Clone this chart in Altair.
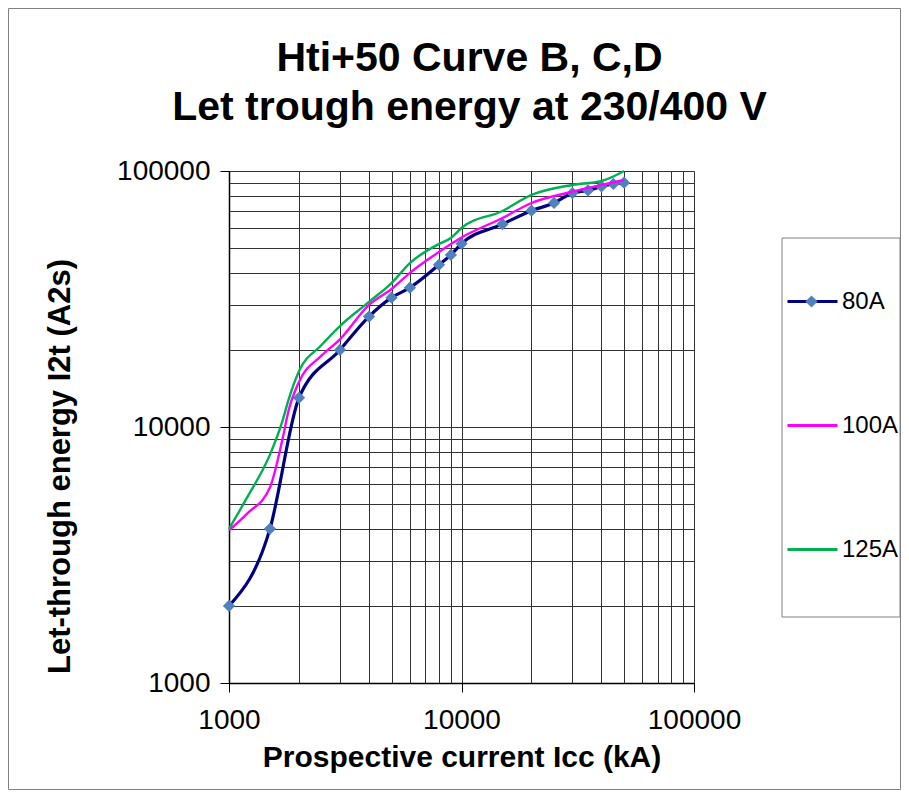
import altair as alt
import pandas as pd

# ---- data ----
series_names = ["80A", "100A", "125A"]
series_colors = ["#000080", "#FF00FF", "#00B050"]

x_80 = [1000, 1500, 2000, 3000, 4000, 5000, 6000, 8000, 9000, 10000,
        15000, 20000, 25000, 30000, 35000, 40000, 45000, 50000]
y_80 = [2000, 4000, 13000, 20000, 27000, 32000, 35000, 43000, 47000, 52000,
        62000, 70000, 75000, 82000, 84000, 87000, 89000, 90000]

x_100 = [1000, 1200, 1500, 1700, 1800, 2000, 2500, 3000, 4000, 5000, 6000,
         8000, 10000, 15000, 20000, 30000, 40000, 50000]
y_100 = [3950, 4600, 5800, 9000, 11500, 15000, 19000, 22000, 30000, 34600, 40000,
         48300, 55000, 65500, 75000, 83000, 88200, 92200]

x_125 = [1000, 1200, 1500, 1700, 1800, 2000, 2500, 3000, 4000, 5000, 6000,
         8000, 9000, 10000, 15000, 20000, 30000, 40000, 45000, 50000]
y_125 = [4000, 5330, 7800, 10600, 12700, 16500, 20900, 24800, 30800, 36500, 43700,
         51900, 54700, 59900, 69800, 80600, 88200, 91400, 95200, 100000]

grid_values = [m * 10 ** e for e in (3, 4) for m in range(1, 10)] + [100000]
major_values = [1000, 10000, 100000]

title_lines = ["Hti+50 Curve B, C,D", "Let trough energy at 230/400 V"]
x_title = "Prospective current Icc (kA)"
y_title = "Let-through energy I2t (A2s)"

FONT = "Liberation Sans"

df80 = pd.DataFrame({"x": x_80, "y": y_80, "series": "80A"})
df100 = pd.DataFrame({"x": x_100, "y": y_100, "series": "100A"})
df125 = pd.DataFrame({"x": x_125, "y": y_125, "series": "125A"})

major_test = "indexof([1000,10000,100000], datum.value) >= 0"

x_scale = alt.Scale(type="log", domain=[1000, 100000], nice=False)
y_scale = alt.Scale(type="log", domain=[1000, 100000], nice=False)

x_axis = alt.Axis(
    values=grid_values, labelExpr=f"{major_test} ? format(datum.value, 'd') : ''",
    title=x_title, titleFont=FONT, titleFontSize=30, titleFontWeight="bold",
    titleColor="black", titleY=83, titleBaseline="alphabetic",
    labelFont=FONT, labelFontSize=28, labelColor="black", labelPadding=14,
    labelFlush=False, labelOverlap=False,
    tickSize=9, tickColor="black",
    tickOpacity={"condition": {"test": major_test, "value": 1}, "value": 0},
    grid=True, gridColor="#333333", gridWidth=1,
    domainColor="black", domainWidth=1.5,
)
y_axis = alt.Axis(
    values=grid_values, labelExpr=f"{major_test} ? format(datum.value, 'd') : ''",
    title=y_title, titleFont=FONT, titleFontSize=31, titleFontWeight="bold",
    titleColor="black", titleX=-160, titleY=295, titleBaseline="alphabetic",
    titleAlign="center", titleAngle=270,
    labelFont=FONT, labelFontSize=28, labelColor="black", labelPadding=10,
    labelFlush=False, labelOverlap=False,
    tickSize=9, tickColor="black",
    tickOpacity={"condition": {"test": major_test, "value": 1}, "value": 0},
    grid=True, gridColor="#333333", gridWidth=1,
    domainColor="black", domainWidth=1.5,
)

X = alt.X("x:Q", scale=x_scale, axis=x_axis)
Y = alt.Y("y:Q", scale=y_scale, axis=y_axis)

color_enc = alt.Color(
    "series:N",
    scale=alt.Scale(domain=series_names, range=series_colors),
    legend=alt.Legend(
        orient="none", legendX=557, legendY=104, title=None,
        symbolType="stroke", symbolSize=2500, symbolStrokeWidth=3,
        labelFont=FONT, labelFontSize=24, labelColor="black", labelOffset=3,
        rowPadding=85, padding=0,
    ),
)


def line_layer(df, width):
    return alt.Chart(df).mark_line(interpolate="monotone", strokeWidth=width).encode(
        x=X, y=Y, color=color_enc, order=alt.Order("x:Q"),
    )


points = alt.Chart(df80).mark_point(filled=True, opacity=1, strokeWidth=0, size=150).encode(
    x=X, y=Y,
    color=alt.value("#4F81BD"),
    shape=alt.Shape(
        "series:N",
        scale=alt.Scale(domain=["80A"], range=["diamond"]),
        legend=alt.Legend(
            orient="none", legendX=576, legendY=124, title=None,
            symbolSize=150, symbolFillColor="#4F81BD", symbolStrokeWidth=0,
            labelOpacity=0, labelFontSize=10, padding=0,
        ),
    ),
)

legend_box = alt.Chart(pd.DataFrame({"k": [0]})).mark_rect(
    fill="white", stroke="#808080", strokeWidth=1
).encode(x=alt.value(553), x2=alt.value(671), y=alt.value(67), y2=alt.value(446))

outer_frame = alt.Chart(pd.DataFrame({"k": [0]})).mark_rect(
    fill=None, stroke="#808080", strokeWidth=1
).encode(x=alt.value(-220.5), x2=alt.value(671.5), y=alt.value(-162.5), y2=alt.value(618.5))

chart = alt.layer(
    line_layer(df80, 3.2),
    outer_frame,
    legend_box,
    points,
    line_layer(df100, 2.4),
    line_layer(df125, 2.4),
).properties(
    width=465, height=512,
    autosize=alt.AutoSizeParams(type="none"),
    padding={"left": 221, "top": 163, "right": 207, "bottom": 107},
    title=alt.Title(
        text=title_lines, font=FONT, fontSize=41, fontWeight="bold", color="black",
        anchor="middle", frame="group", dx=8, lineHeight=49, offset=-121,
    ),
).configure_view(stroke="#999999", strokeWidth=2).configure(background="white")

chart.save("out.html", embed_options={"renderer": "svg", "actions": False})
